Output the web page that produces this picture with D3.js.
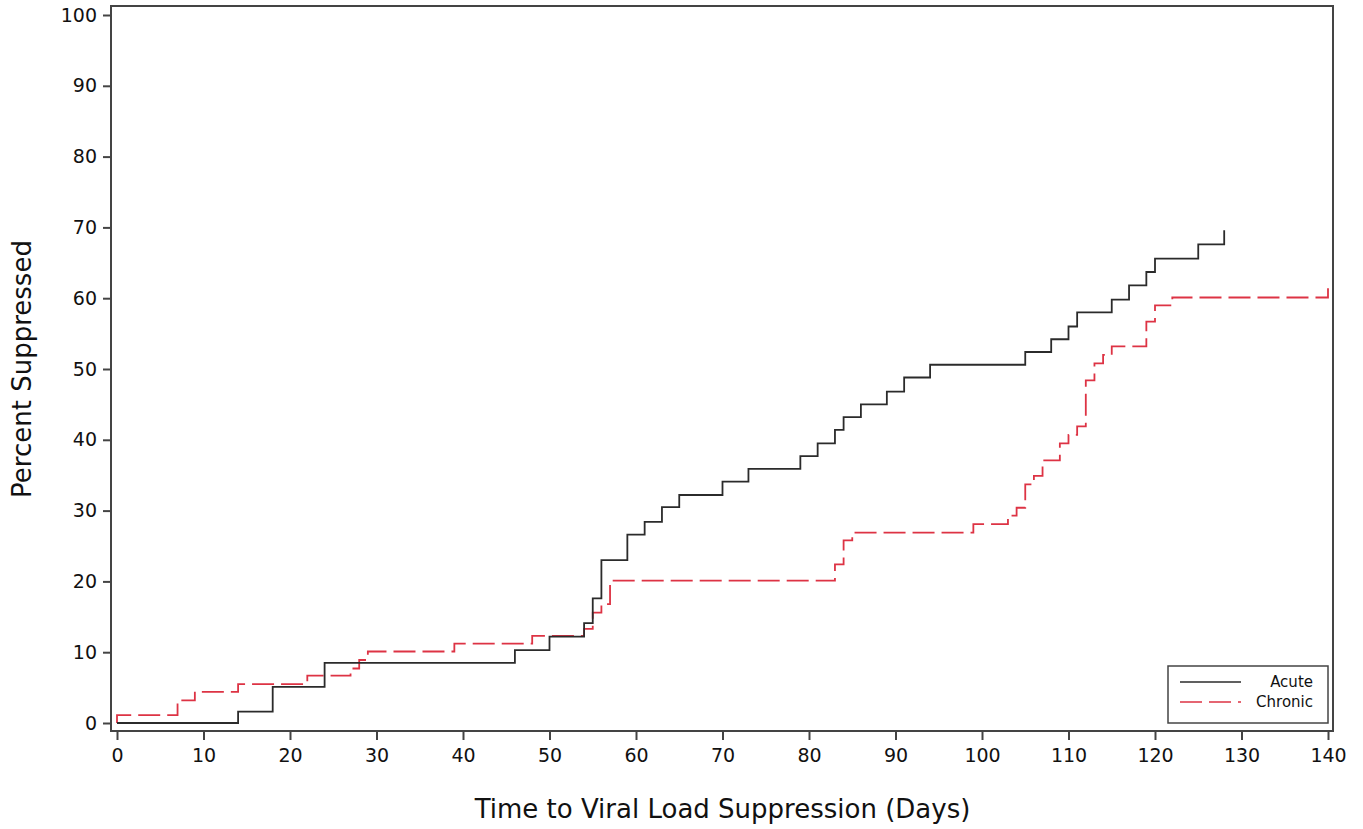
<!DOCTYPE html>
<html lang="en">
<head>
    <meta charset="UTF-8">
    <title>Time to Viral Load Suppression</title>
    <script src="https://d3js.org/d3.v7.min.js"></script>
    <style>
        body { margin: 0; background: #fff; }
        svg { display: block; font-family: "DejaVu Sans", Verdana, sans-serif; }
        .axis text { font-size: 19px; fill: #111; }
        .axis line { stroke: #444; stroke-width: 2; }
    </style>
</head>
<body>
<svg width="1363" height="829"></svg>
<script>
// step points (days, percent suppressed)
const acuteDays = [0, 14, 18, 24, 46, 50, 54, 55, 56, 59, 61, 63, 65, 70, 73, 79, 81, 83, 84, 86, 89, 91, 94, 105, 108, 110, 111, 115, 117, 119, 120, 125, 128];
const acutePct = [0, 1.6, 5.1, 8.5, 10.3, 12.2, 14.1, 17.6, 23.0, 26.6, 28.4, 30.5, 32.2, 34.1, 35.9, 37.7, 39.5, 41.4, 43.2, 45.0, 46.8, 48.8, 50.6, 52.4, 54.2, 56.0, 58.0, 59.8, 61.8, 63.7, 65.6, 67.6, 69.6];

const chronicDays = [0, 0, 7, 9, 14, 22, 27, 28, 29, 39, 48, 54, 55, 56, 57, 83, 84, 85, 99, 103, 104, 105, 106, 107, 109, 110, 111, 112, 113, 114, 115, 119, 120, 122, 140];
const chronicPct = [0, 1.1, 3.2, 4.4, 5.5, 6.7, 7.7, 8.9, 10.1, 11.2, 12.3, 13.3, 15.6, 16.8, 20.1, 22.4, 25.8, 26.9, 28.1, 29.3, 30.4, 33.7, 34.9, 37.1, 39.5, 40.7, 41.9, 48.4, 50.8, 52.0, 53.2, 56.7, 59.0, 60.1, 61.4];

const xTicks = d3.range(0, 141, 10);
const yTicks = d3.range(0, 101, 10);
const seriesNames = ["Acute", "Chronic"];

const svg = d3.select("svg");

// frame of the plot
const frame = { left: 111, top: 6, right: 1333, bottom: 731 };

let x = d3.scaleLinear().domain([0, 140]).range([117, 1328]);
let y = d3.scaleLinear().domain([0, 100]).range([723, 15]);

let colors = { Acute: "#2b2b2b", Chronic: "#dd3344" };

svg.append("rect")
    .attr("x", frame.left)
    .attr("y", frame.top)
    .attr("width", frame.right - frame.left)
    .attr("height", frame.bottom - frame.top)
    .attr("fill", "none")
    .attr("stroke", "#444")
    .attr("stroke-width", 2);

// axes (domain line hidden, the frame takes its place)
let xAxis = svg.append("g")
    .attr("class", "axis")
    .attr("transform", `translate(0,${frame.bottom})`)
    .call(d3.axisBottom(x).tickValues(xTicks).tickSize(9).tickPadding(9).tickSizeOuter(0));
xAxis.select(".domain").remove();

let yAxis = svg.append("g")
    .attr("class", "axis")
    .attr("transform", `translate(${frame.left},0)`)
    .call(d3.axisLeft(y).tickValues(yTicks).tickSize(8).tickPadding(6).tickSizeOuter(0));
yAxis.select(".domain").remove();

svg.selectAll(".axis").attr("font-family", null).attr("font-size", null);

// axis titles
svg.append("text")
    .attr("x", (x(0) + x(140)) / 2)
    .attr("y", 818)
    .attr("text-anchor", "middle")
    .style("font-size", "26px")
    .style("fill", "#111")
    .text("Time to Viral Load Suppression (Days)");

svg.append("text")
    .attr("transform", `translate(31,${(y(0) + y(100)) / 2}) rotate(-90)`)
    .attr("text-anchor", "middle")
    .style("font-size", "26px")
    .style("fill", "#111")
    .text("Percent Suppressed");

// step curves
let line = d3.line()
    .x(d => x(d[0]))
    .y(d => y(d[1]))
    .curve(d3.curveStepAfter);

let acute = acuteDays.map((d, i) => [d, acutePct[i]]);
let chronic = chronicDays.map((d, i) => [d, chronicPct[i]]);

svg.append("path")
    .datum(chronic)
    .attr("d", line)
    .attr("fill", "none")
    .attr("stroke", colors.Chronic)
    .attr("stroke-width", 1.8)
    .attr("stroke-dasharray", "22,7");

svg.append("path")
    .datum(acute)
    .attr("d", line)
    .attr("fill", "none")
    .attr("stroke", colors.Acute)
    .attr("stroke-width", 1.8);

// legend
let legend = svg.append("g").attr("id", "legend");
legend.append("rect")
    .attr("x", 1168)
    .attr("y", 666)
    .attr("width", 160)
    .attr("height", 57)
    .attr("fill", "#fff")
    .attr("stroke", "#444")
    .attr("stroke-width", 1.5);

seriesNames.forEach((name, i) => {
    let ly = 682 + i * 20;
    legend.append("line")
        .attr("x1", 1180)
        .attr("x2", 1241)
        .attr("y1", ly)
        .attr("y2", ly)
        .attr("stroke", colors[name])
        .attr("stroke-width", 1.6)
        .attr("stroke-dasharray", name == "Chronic" ? "22,7" : null);
    legend.append("text")
        .attr("x", 1313)
        .attr("y", ly + 5)
        .attr("text-anchor", "end")
        .style("font-size", "15px")
        .style("fill", "#111")
        .text(name);
});
</script>
</body>
</html>
